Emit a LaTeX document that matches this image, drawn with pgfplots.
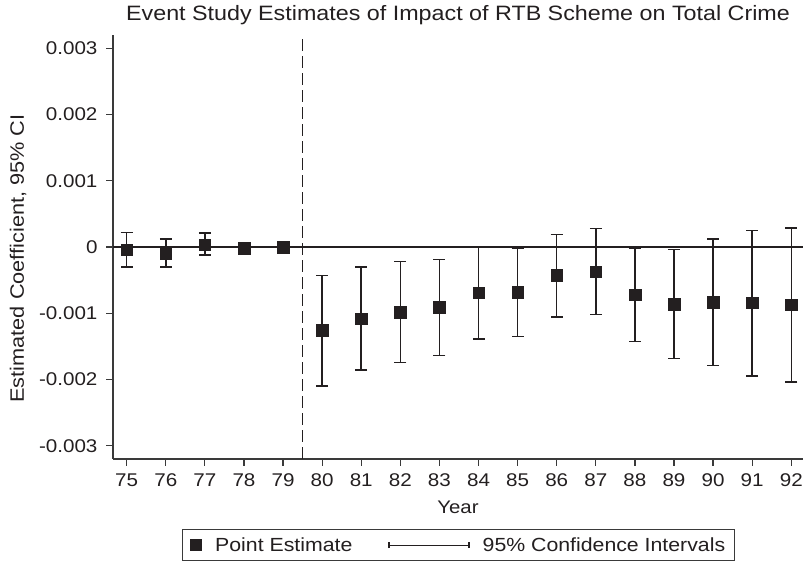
\documentclass[border=0pt]{standalone}
\usepackage{pgfplots}
\pgfplotsset{compat=1.18}
\usepackage{pgfplotstable}
\usepackage{fontspec}
\setmainfont[FakeStretch=1.12]{Liberation Sans}
\definecolor{ink}{HTML}{231F20}
\definecolor{axisgray}{HTML}{3A3A3A}
\pgfplotstableread{
x y lo hi
75 -0.00004 -0.00030 0.00022
76 -0.00009 -0.00030 0.00012
77 0.000035 -0.00012 0.00021
78 -0.00002 -0.00005 0.00001
79 0.0 0.0 0.0
80 -0.00126 -0.00210 -0.00043
81 -0.00108 -0.00186 -0.00030
82 -0.00098 -0.00174 -0.00022
83 -0.00091 -0.00164 -0.00019
84 -0.00069 -0.00139 0.00001
85 -0.00068 -0.00135 -0.00002
86 -0.00043 -0.00106 0.00019
87 -0.00037 -0.00102 0.00028
88 -0.00072 -0.00143 -0.00002
89 -0.00086 -0.00168 -0.00004
90 -0.00083 -0.00179 0.00012
91 -0.00084 -0.00195 0.00025
92 -0.00087 -0.00204 0.00029
}\est
\begin{document}
\begin{tikzpicture}
\begin{axis}[
  at={(0pt,0pt)}, anchor=south west,
  scale only axis, width=690pt, height=424pt,
  xmin=74.65, xmax=92.3, ymin=-0.0032, ymax=0.0032,
  axis x line*=bottom, axis y line*=left,
  axis line style={axisgray, line width=1.2pt, -},
  xtick={75,76,...,92},
  xticklabels={75,76,77,78,79,80,81,82,83,84,85,86,87,88,89,90,91,92},
  ytick={-0.003,-0.002,-0.001,0,0.001,0.002,0.003},
  yticklabels={-0.003,-0.002,-0.001,0,0.001,0.002,0.003},
  scaled y ticks=false,
  tick align=outside, major tick length=7pt,
  tick style={axisgray, line width=1.2pt},
  ticklabel style={font=\fontsize{18.4}{22}\selectfont, text=ink},
  xticklabel shift=4pt,
  yticklabel shift=5pt,
  xlabel={Year}, ylabel={Estimated Coefficient, 95\% CI},
  xlabel style={font=\fontsize{18.2}{22}\selectfont, text=ink,
    at={(axis description cs:0.5,0)}, anchor=base, yshift=-55pt},
  ylabel style={font=\fontsize{19.4}{22}\selectfont, text=ink,
    at={(axis description cs:-0.1377,0.473)}, anchor=center},
  title={Event Study Estimates of Impact of RTB Scheme on Total Crime},
  title style={font=\fontsize{20.8}{24}\selectfont, text=ink,
    at={(axis description cs:0.5,1)}, anchor=base, yshift=8.5pt},
  legend style={at={(axis description cs:0.1,-0.165)}, anchor=north west, legend columns=-1,
    draw=axisgray, line width=1.2pt,
    font=\fontsize{19}{22}\selectfont, text=ink, inner xsep=7pt, inner ysep=6pt,
    /tikz/every odd column/.append style={column sep=11pt},
    /tikz/every even column/.append style={column sep=34pt}},
  legend cell align=left,
]
\addplot[ink, line width=1.3pt, forget plot] coordinates {(74.65,0) (92.3,0)};
\addplot[ink, line width=1.5pt, dash pattern=on 12pt off 5pt, forget plot] coordinates {(79.5,-0.0032) (79.5,0.0032)};
\addplot[draw=none, mark=none, forget plot,
  error bars/.cd, y dir=both, y explicit,
  error bar style={ink, line width=1.5pt},
  error mark options={rotate=90, mark size=6pt, ink, line width=1.5pt}]
  table[x=x, y=y, y error plus expr=\thisrow{hi}-\thisrow{y}, y error minus expr=\thisrow{y}-\thisrow{lo}] {\est};
\addplot[only marks, mark=square*, mark size=5.8pt, mark options={fill=ink, draw=ink}, forget plot]
  table[x=x, y=y] {\est};
\addlegendimage{legend image code/.code={
  \fill[ink] (0pt,-5.7pt) rectangle (11.4pt,5.7pt);}}
\addlegendentry{Point Estimate}
\addlegendimage{legend image code/.code={
  \draw[ink, line width=1.3pt] (0pt,0pt) -- (80pt,0pt);
  \draw[ink, line width=1.3pt] (0pt,-3pt) -- (0pt,3pt);
  \draw[ink, line width=1.3pt] (80pt,-3pt) -- (80pt,3pt);}}
\addlegendentry{95\% Confidence Intervals\hspace{12pt}}
\end{axis}
\pgfresetboundingbox
\useasboundingbox (-113pt,-108pt) rectangle (690pt,459pt);
\end{tikzpicture}
\end{document}
